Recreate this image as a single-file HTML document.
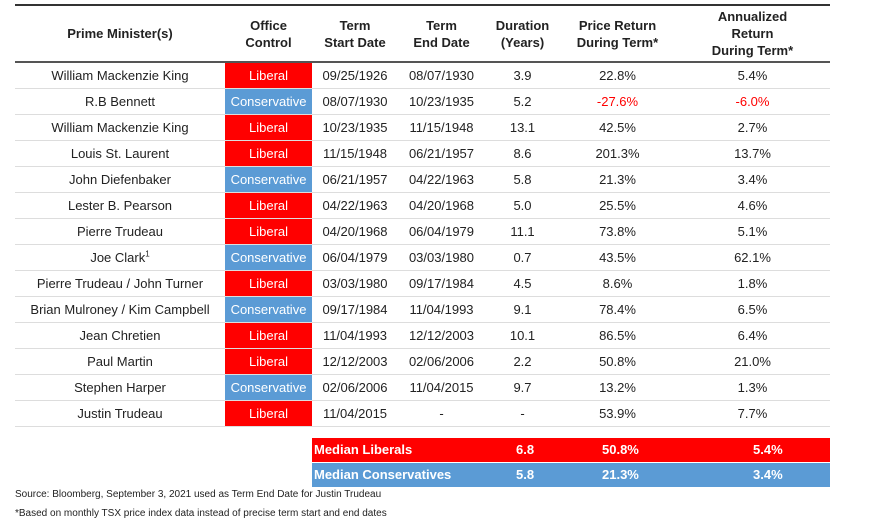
<!DOCTYPE html>
<html><head><style>
body{margin:0;width:880px;height:530px;background:#fff;font-family:"Liberation Sans",Arial,sans-serif;position:relative;overflow:hidden}
.t{position:absolute;left:15px;top:4px}
table{border-collapse:collapse;font-size:13px;color:#222}
td{text-align:center;padding:0;height:25px;line-height:25px;border-bottom:1px solid #ddd;white-space:nowrap}
th{font-weight:bold;font-size:13px;height:55px;line-height:17px;border-bottom:2px solid #555;border-top:2px solid #333;padding:0}
.L{background:#f00;color:#fff}
.C{background:#5b9bd5;color:#fff}
.r{color:#f00}
.m{position:absolute;left:312px;width:518px;height:24px;color:#fff;font-weight:bold;font-size:13px}
.m span{position:absolute;top:4px}
.f{position:absolute;left:15px;font-size:10px;color:#222}
</style></head><body>
<div class="t"><table>
<colgroup><col style="width:210px"><col style="width:87px"><col style="width:86px"><col style="width:87px"><col style="width:75px"><col style="width:115px"><col style="width:155px"></colgroup>
<tr><th>Prime Minister(s)</th><th>Office<br>Control</th><th>Term<br>Start Date</th><th>Term<br>End Date</th><th>Duration<br>(Years)</th><th>Price Return<br>During Term*</th><th>Annualized<br>Return<br>During Term*</th></tr>
<tr><td>William Mackenzie King</td><td class="L">Liberal</td><td>09/25/1926</td><td>08/07/1930</td><td>3.9</td><td>22.8%</td><td>5.4%</td></tr>
<tr><td>R.B Bennett</td><td class="C">Conservative</td><td>08/07/1930</td><td>10/23/1935</td><td>5.2</td><td class="r">-27.6%</td><td class="r">-6.0%</td></tr>
<tr><td>William Mackenzie King</td><td class="L">Liberal</td><td>10/23/1935</td><td>11/15/1948</td><td>13.1</td><td>42.5%</td><td>2.7%</td></tr>
<tr><td>Louis St. Laurent</td><td class="L">Liberal</td><td>11/15/1948</td><td>06/21/1957</td><td>8.6</td><td>201.3%</td><td>13.7%</td></tr>
<tr><td>John Diefenbaker</td><td class="C">Conservative</td><td>06/21/1957</td><td>04/22/1963</td><td>5.8</td><td>21.3%</td><td>3.4%</td></tr>
<tr><td>Lester B. Pearson</td><td class="L">Liberal</td><td>04/22/1963</td><td>04/20/1968</td><td>5.0</td><td>25.5%</td><td>4.6%</td></tr>
<tr><td>Pierre Trudeau</td><td class="L">Liberal</td><td>04/20/1968</td><td>06/04/1979</td><td>11.1</td><td>73.8%</td><td>5.1%</td></tr>
<tr><td>Joe Clark<sup style="font-size:8px;line-height:0">1</sup></td><td class="C">Conservative</td><td>06/04/1979</td><td>03/03/1980</td><td>0.7</td><td>43.5%</td><td>62.1%</td></tr>
<tr><td>Pierre Trudeau / John Turner</td><td class="L">Liberal</td><td>03/03/1980</td><td>09/17/1984</td><td>4.5</td><td>8.6%</td><td>1.8%</td></tr>
<tr><td>Brian Mulroney / Kim Campbell</td><td class="C">Conservative</td><td>09/17/1984</td><td>11/04/1993</td><td>9.1</td><td>78.4%</td><td>6.5%</td></tr>
<tr><td>Jean Chretien</td><td class="L">Liberal</td><td>11/04/1993</td><td>12/12/2003</td><td>10.1</td><td>86.5%</td><td>6.4%</td></tr>
<tr><td>Paul Martin</td><td class="L">Liberal</td><td>12/12/2003</td><td>02/06/2006</td><td>2.2</td><td>50.8%</td><td>21.0%</td></tr>
<tr><td>Stephen Harper</td><td class="C">Conservative</td><td>02/06/2006</td><td>11/04/2015</td><td>9.7</td><td>13.2%</td><td>1.3%</td></tr>
<tr><td>Justin Trudeau</td><td class="L">Liberal</td><td>11/04/2015</td><td>-</td><td>-</td><td>53.9%</td><td>7.7%</td></tr>
</table></div>
<div class="m" style="top:438px;background:#f00"><span style="left:2px">Median Liberals</span><span style="left:204px">6.8</span><span style="left:290px">50.8%</span><span style="left:441px">5.4%</span></div>
<div class="m" style="top:463px;background:#5b9bd5"><span style="left:2px">Median Conservatives</span><span style="left:204px">5.8</span><span style="left:290px">21.3%</span><span style="left:441px">3.4%</span></div>
<div class="f" style="top:489px">Source: Bloomberg, September 3, 2021 used as Term End Date for Justin Trudeau</div>
<div class="f" style="top:508px">*Based on monthly TSX price index data instead of precise term start and end dates</div>
</body></html>
